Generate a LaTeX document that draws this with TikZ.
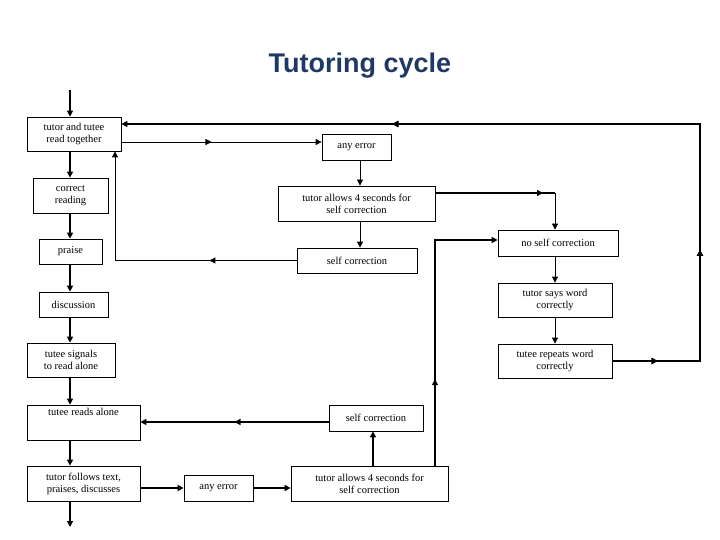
\documentclass[tikz,border=0pt]{standalone}
\usepackage{fontspec}
\setmainfont{Liberation Serif}
\newfontfamily\titlefont{Liberation Sans}
\usetikzlibrary{arrows.meta,decorations.markings}
\definecolor{titleblue}{HTML}{1F3864}
\begin{document}
\begin{tikzpicture}[x=1pt,y=-1pt,
  bx/.style={draw,line width=0.8pt,font=\fontsize{10.5}{12}\selectfont,align=center,inner sep=0pt},
  thin/.style={line width=0.8pt},
  thick2/.style={line width=2.2pt},
  arr/.style={-{Triangle[length=6pt,width=6pt]}},
  mid/.style={postaction={decorate},decoration={markings,mark=at position #1 with {\arrow{Triangle[length=6pt,width=6pt]}}}}]
\useasboundingbox (0,0) rectangle (720,540);
\node[font=\titlefont\bfseries\fontsize{27}{30}\selectfont,text=titleblue] (title) at (360,66) {Tutoring cycle};
\newcommand{\bxn}[6]{\node[bx,minimum width={#4-#2},minimum height={#5-#3}] (#1) at ({(#2+#4)/2},{(#3+#5)/2}) {#6};}
\bxn{A}{27}{117}{121}{151}{tutor and tutee\\read together}
\bxn{B}{33}{178}{108}{213}{correct\\reading}
\bxn{C}{39}{239}{102}{264}{praise}
\bxn{D}{39}{292}{108}{317}{discussion}
\bxn{E}{27}{343}{115}{377}{tutee signals\\to read alone}
\bxn{F}{27}{405}{140}{440}{tutee reads alone\\[10pt]}
\bxn{G}{27}{466}{140}{501}{tutor follows text,\\praises, discusses}
\bxn{H}{184}{475}{253}{501}{any error}
\bxn{I}{291}{466}{448}{501}{tutor allows 4 seconds for\\self correction}
\bxn{J}{329}{405}{423}{431}{self correction}
\bxn{K}{322}{134}{391}{160}{any error}
\bxn{L}{278}{186}{435}{221}{tutor allows 4 seconds for\\self correction}
\bxn{M}{297}{248}{417}{273}{self correction}
\bxn{N}{498}{230}{618}{256}{no self correction}
\bxn{O}{498}{283}{612}{317}{tutor says word\\correctly}
\bxn{P}{498}{344}{612}{378}{tutee repeats word\\correctly}
\coordinate (start) at (70,90);
\coordinate (end) at (70,527);
% left spine
\draw[thick2,arr] (start) -- (A.north -| start);
\foreach \a/\b in {A/B,B/C,C/D,D/E,E/F,F/G}{\draw[thick2,arr] (\a.south -| start) -- (\b.north -| start);}
\draw[thick2,arr] (G.south -| start) -- (end);
% top loop
\draw[thin,arr,mid=0.45] (A.east |- 0,142) -- (K.west |- 0,142);
\draw[thin,arr] (K.south -| 360,0) -- (L.north -| 360,0);
\draw[thin,arr] (L.south -| 360,0) -- (M.north -| 360,0);
\draw[thin,arr,mid=0.3] (M.west) -- (115,260.5) -- (A.south -| 115,0);
\draw[thick2,mid=0.9] (L.east |- 0,193) -- (555,193);
\draw[thin,arr] (555,193) -- (N.north -| 555,0);
\draw[thin,arr] (N.south -| 555,0) -- (O.north -| 555,0);
\draw[thin,arr] (O.south -| 555,0) -- (P.north -| 555,0);
\draw[thick2,arr,mid=0.05,mid=0.22,mid=0.7] (P.east |- 0,361) -- (700,361) -- (700,124) -- (A.east |- 0,124);
% bottom loop
\draw[thick2,arr] (G.east |- 0,488) -- (H.west |- 0,488);
\draw[thick2,arr] (H.east |- 0,488) -- (I.west |- 0,488);
\draw[thick2,arr] (I.north -| 373,0) -- (J.south -| 373,0);
\draw[thick2,arr,mid=0.5] (J.west |- 0,422) -- (F.east |- 0,422);
\draw[thick2,arr,mid=0.3] (I.north -| 435,0) -- (435,240) -- (N.west |- 0,240);
\end{tikzpicture}
\end{document}
